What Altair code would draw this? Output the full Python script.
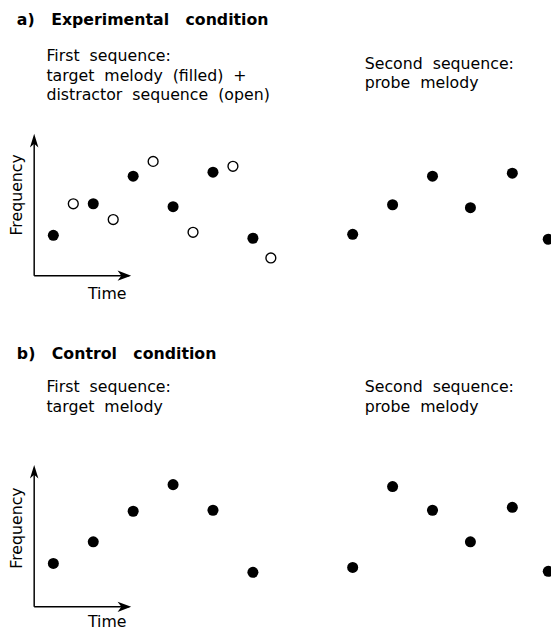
import altair as alt
import pandas as pd

# ---- data (time and frequency in arbitrary units) ----
target_time = [0, 1, 2, 3, 4, 5]
distractor_time = [0.5, 1.5, 2.5, 3.5, 4.5, 5.45]
probe_time = [7.5, 8.5, 9.5, 10.45, 11.5, 12.4]

exp_target_freq = [4.1, 7.3, 10.1, 7.0, 10.5, 3.8]
exp_distractor_freq = [7.3, 5.7, 11.6, 4.4, 11.1, 1.8]
exp_probe_freq = [4.2, 7.2, 10.1, 6.9, 10.4, 3.7]

ctl_target_freq = [4.4, 6.6, 9.7, 12.4, 9.8, 3.5]
ctl_probe_freq = [4.0, 12.2, 9.8, 6.6, 10.1, 3.6]

axis_origin_time = -0.48
axis_time_end = 1.95
axis_freq_end = 14.4

NB = "\u00a0"
heading_a = f"a){NB*3}Experimental{NB*3}condition"
heading_b = f"b){NB*3}Control{NB*3}condition"
first_a = [f"First{NB}{NB}sequence:", f"target{NB}{NB}melody{NB}{NB}(filled){NB}{NB}+",
           f"distractor{NB}{NB}sequence{NB}{NB}(open)"]
second_a = [f"Second{NB}{NB}sequence:", f"probe{NB}{NB}melody"]
first_b = [f"First{NB}{NB}sequence:", f"target{NB}{NB}melody"]
second_b = [f"Second{NB}{NB}sequence:", f"probe{NB}{NB}melody"]

X_DOMAIN = [-1.136, 12.469]
W = 551
FONT = "DejaVu Sans"

ARROW_RIGHT = "M0,0L-2,-0.75L-1.45,0L-2,0.75Z"
ARROW_UP = "M0,0L-0.62,2L0,1.45L0.62,2Z"


def panel(heading, first_lines, second_lines, filled_pts, open_pts, y_dom, h,
          head_y, first_y, second_y, freq_label_f, time_label_f):
    xs = alt.Scale(domain=X_DOMAIN, nice=False, zero=False)
    ys = alt.Scale(domain=y_dom, nice=False, zero=False)

    def enc(**kw):
        return dict(x=alt.X("t:Q", scale=xs, axis=None),
                    y=alt.Y("f:Q", scale=ys, axis=None), **kw)

    layers = []
    axes_df = pd.DataFrame({
        "t": [axis_origin_time, axis_origin_time],
        "f": [0, 0],
        "t2": [axis_time_end - 0.05, axis_origin_time],
        "f2": [0, axis_freq_end - 0.5],
    })
    layers.append(alt.Chart(axes_df).mark_rule(color="black", strokeWidth=1.5)
                  .encode(**enc(x2="t2:Q", y2="f2:Q")))
    layers.append(alt.Chart(pd.DataFrame({"t": [axis_time_end], "f": [0]}))
                  .mark_point(shape=ARROW_RIGHT, filled=True, color="black", size=190, opacity=1)
                  .encode(**enc()))
    layers.append(alt.Chart(pd.DataFrame({"t": [axis_origin_time], "f": [axis_freq_end]}))
                  .mark_point(shape=ARROW_UP, filled=True, color="black", size=190, opacity=1)
                  .encode(**enc()))
    if open_pts is not None:
        layers.append(alt.Chart(pd.DataFrame({"t": open_pts[0], "f": open_pts[1]}))
                      .mark_point(shape="circle", filled=False, fill="white", stroke="black",
                                  strokeWidth=1.4, size=100, opacity=1)
                      .encode(**enc()))
    fdf = pd.DataFrame({"t": filled_pts[0], "f": filled_pts[1]})
    layers.append(alt.Chart(fdf).mark_point(shape="circle", filled=True, color="black",
                                            size=125, opacity=1, clip=True).encode(**enc()))
    # axis labels
    layers.append(alt.Chart(pd.DataFrame({"t": [-0.92], "f": [freq_label_f], "label": ["Frequency"]}))
                  .mark_text(angle=270, font=FONT, fontSize=16, color="black",
                             align="center", baseline="middle")
                  .encode(**enc(text="label:N")))
    layers.append(alt.Chart(pd.DataFrame({"t": [1.35], "f": [time_label_f], "label": ["Time"]}))
                  .mark_text(font=FONT, fontSize=16, color="black",
                             align="center", baseline="middle")
                  .encode(**enc(text="label:N")))
    # headings and captions
    layers.append(alt.Chart(pd.DataFrame({"label": [heading]}))
                  .mark_text(font=FONT, fontSize=16, fontWeight="bold", color="black",
                             align="left", baseline="alphabetic")
                  .encode(x=alt.value(9), y=alt.value(head_y), text="label:N"))
    layers.append(alt.Chart(pd.DataFrame({"label": ["\n".join(first_lines)]}))
                  .mark_text(font=FONT, fontSize=16, color="black", align="left",
                             baseline="alphabetic", lineBreak="\n", lineHeight=20)
                  .encode(x=alt.value(39), y=alt.value(first_y), text="label:N"))
    layers.append(alt.Chart(pd.DataFrame({"label": ["\n".join(second_lines)]}))
                  .mark_text(font=FONT, fontSize=16, color="black", align="left",
                             baseline="alphabetic", lineBreak="\n", lineHeight=20)
                  .encode(x=alt.value(362), y=alt.value(second_y), text="label:N"))
    return alt.layer(*layers).properties(width=W, height=h)


panel_a = panel(heading_a, first_a, second_a,
                (target_time + probe_time, exp_target_freq + exp_probe_freq),
                (distractor_time, exp_distractor_freq),
                [-4.8, 26.6], 314, 12, 48, 56, 8.2, -1.9)
panel_b = panel(heading_b, first_b, second_b,
                (target_time + probe_time, ctl_target_freq + ctl_probe_freq),
                None,
                [-2.8, 28.8], 316, 37, 70, 70, 8.0, -1.5)

chart = (alt.vconcat(panel_a, panel_b, spacing=0)
         .properties(padding=0, background="white")
         .configure_view(stroke=None))

chart.save("out.html", embed_options={"renderer": "svg", "actions": False})
